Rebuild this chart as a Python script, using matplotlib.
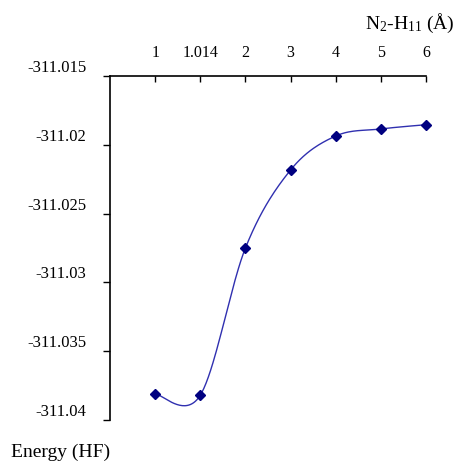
import numpy as np
import matplotlib
matplotlib.use('Agg')
import matplotlib.pyplot as plt

# data
distance_labels = ['1', '1.014', '2', '3', '4', '5', '6']
energy = [-311.0381, -311.0382, -311.0275, -311.02183, -311.01936, -311.01885, -311.01854]
y_ticks = [-311.015, -311.02, -311.025, -311.03, -311.035, -311.04]
y_tick_labels = ['-311.015', '-311.02', '-311.025', '-311.03', '-311.035', '-311.04']

plt.rcParams['font.family'] = 'Liberation Serif'
plt.rcParams['mathtext.fontset'] = 'custom'
plt.rcParams['mathtext.rm'] = 'Liberation Serif'
plt.rcParams['mathtext.it'] = 'Liberation Serif'


def smooth_curve(x, y, yscale, n=40):
    # Excel-style smoothed line: Catmull-Rom through the points, drawn as Bezier pieces
    px = np.asarray(x, float)
    py = np.asarray(y, float) * yscale
    pts = np.column_stack([px, py])
    ext = np.vstack([pts[0], pts, pts[-1]])
    t = np.linspace(0, 1, n)[:, None]
    out = []
    for i in range(len(pts) - 1):
        p0, p1, p2, p3 = ext[i], ext[i + 1], ext[i + 2], ext[i + 3]
        c1 = p1 + (p2 - p0) / 6
        c2 = p2 - (p3 - p1) / 6
        seg = ((1 - t) ** 3) * p1 + 3 * ((1 - t) ** 2) * t * c1 + 3 * (1 - t) * t ** 2 * c2 + t ** 3 * p2
        out.append(seg)
    out = np.vstack(out)
    return out[:, 0], out[:, 1] / yscale


fig = plt.figure(figsize=(4.57, 4.63), dpi=100)
ax = fig.add_axes([110 / 457, 1 - 420 / 463, 316 / 457, 344 / 463])

xpos = np.arange(1, len(energy) + 1)
# scale y so the spline is built in screen-like proportions
yscale = (68.8 / 0.005) / 45.2
sx, sy = smooth_curve(xpos, np.array(energy) + 311.04, yscale)
ax.plot(sx, sy - 311.04, color='#3030b0', lw=1.0, clip_on=False)
ax.plot(xpos, energy, linestyle='none', marker='D', color='#000080', markersize=5, clip_on=False)

ax.set_xlim(0, 7)
ax.set_ylim(-311.04, -311.015)

ax.xaxis.tick_top()
ax.set_xticks(xpos)
ax.set_xticklabels(distance_labels, fontsize=11.5)
ax.tick_params(axis='x', direction='in', length=4, width=1, pad=11)

ax.set_yticks(y_ticks)
ax.set_yticklabels(y_tick_labels, fontsize=12)
ax.tick_params(axis='y', direction='out', length=5, width=1, pad=12)
for lab in ax.get_yticklabels():
    lab.set_va('bottom')

for s in ['bottom', 'right']:
    ax.spines[s].set_visible(False)
for s in ['top', 'left']:
    ax.spines[s].set_linewidth(1.2)

fig.text(455 / 457, 1 - 29 / 463, r'N$_2$-H$_{11}$ (Å)', ha='right', va='baseline', fontsize=14)
fig.text(11 / 457, 1 - 457 / 463, 'Energy (HF)', ha='left', va='baseline', fontsize=14)

fig.savefig('out.png', dpi=100)
